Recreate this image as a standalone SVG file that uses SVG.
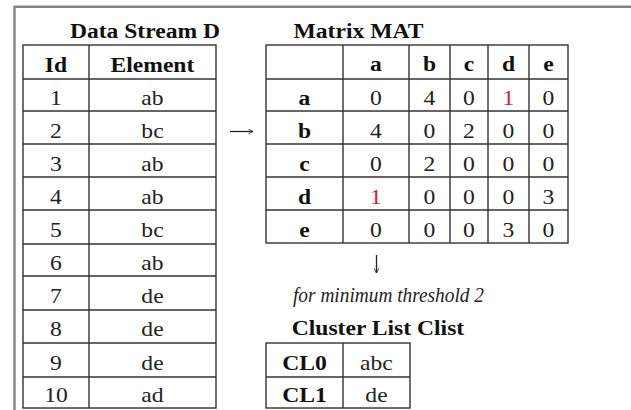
<svg xmlns="http://www.w3.org/2000/svg" width="631" height="410" viewBox="0 0 631 410">
  <style>
    .grid { stroke: #333; stroke-width: 1.4; fill: none; }
    .frame { stroke: #858585; stroke-width: 2.4; fill: none; }
    text { font-family: "Liberation Serif", "Times New Roman", serif; font-size: 20px; fill: #222;
           text-anchor: middle; transform-box: fill-box; transform-origin: center; transform: scaleX(1.18); }
    .b { font-weight: bold; fill: #111; }
    .i { font-style: italic; transform: none; }
    .red { fill: #d4202e; }
    .conn { stroke: #222; stroke-width: 1.3; fill: none; }
  </style>
  <defs>
    <marker id="head" viewBox="0 0 10 10" refX="9" refY="5" markerWidth="6" markerHeight="6" orient="auto" markerUnits="userSpaceOnUse">
      <path d="M1,1 L9,5 L1,9" fill="none" stroke="#222" stroke-width="1.3"/>
    </marker>
  </defs>
  <rect width="631" height="410" fill="#fff"/>

  <!-- page frame -->
  <path class="frame" d="M14.5,410 V6.8 H631"/>

  <!-- data stream table -->
  <g id="data-stream">
    <text class="b" x="145" y="38">Data Stream D</text>
    <rect class="grid" x="23" y="45" width="193" height="363"/>
    <path class="grid" d="M89,45 V408 M23,79 H216 M23,111 H216 M23,144 H216 M23,177 H216 M23,210 H216 M23,244 H216 M23,276 H216 M23,310 H216 M23,343 H216 M23,377 H216"/>
    <text class="b" x="56" y="72">Id</text>
    <text class="b" x="152.5" y="72">Element</text>
    <text x="56" y="105.5">1</text><text x="152.5" y="105.5">ab</text>
    <text x="56" y="138">2</text><text x="152.5" y="138">bc</text>
    <text x="56" y="171">3</text><text x="152.5" y="171">ab</text>
    <text x="56" y="204">4</text><text x="152.5" y="204">ab</text>
    <text x="56" y="237.5">5</text><text x="152.5" y="237.5">bc</text>
    <text x="56" y="270">6</text><text x="152.5" y="270">ab</text>
    <text x="56" y="303.5">7</text><text x="152.5" y="303.5">de</text>
    <text x="56" y="336.5">8</text><text x="152.5" y="336.5">de</text>
    <text x="56" y="370.5">9</text><text x="152.5" y="370.5">de</text>
    <text x="56" y="402">10</text><text x="152.5" y="402">ad</text>
  </g>

  <!-- co-occurrence matrix -->
  <g id="matrix">
    <text class="b" x="358.5" y="38">Matrix MAT</text>
    <rect class="grid" x="266" y="45" width="302" height="198"/>
    <path class="grid" d="M343,45 V243 M409,45 V243 M450,45 V243 M488,45 V243 M529,45 V243 M266,79 H568 M266,111 H568 M266,144 H568 M266,177 H568 M266,210 H568"/>
    <text class="b" x="376" y="71.5">a</text>
    <text class="b" x="429.5" y="71.5">b</text>
    <text class="b" x="469" y="71.5">c</text>
    <text class="b" x="508.5" y="71.5">d</text>
    <text class="b" x="548.5" y="71.5">e</text>

    <text class="b" x="304.5" y="105">a</text>
    <text x="376" y="105">0</text><text x="429.5" y="105">4</text><text x="469" y="105">0</text><text class="red" x="508.5" y="105">1</text><text x="548.5" y="105">0</text>

    <text class="b" x="304.5" y="138">b</text>
    <text x="376" y="138">4</text><text x="429.5" y="138">0</text><text x="469" y="138">2</text><text x="508.5" y="138">0</text><text x="548.5" y="138">0</text>

    <text class="b" x="304.5" y="171">c</text>
    <text x="376" y="171">0</text><text x="429.5" y="171">2</text><text x="469" y="171">0</text><text x="508.5" y="171">0</text><text x="548.5" y="171">0</text>

    <text class="b" x="304.5" y="204">d</text>
    <text class="red" x="376" y="204">1</text><text x="429.5" y="204">0</text><text x="469" y="204">0</text><text x="508.5" y="204">0</text><text x="548.5" y="204">3</text>

    <text class="b" x="304.5" y="237">e</text>
    <text x="376" y="237">0</text><text x="429.5" y="237">0</text><text x="469" y="237">0</text><text x="508.5" y="237">3</text><text x="548.5" y="237">0</text>
  </g>

  <!-- threshold note -->
  <g id="threshold">
    <text class="i" x="388.5" y="302" textLength="191" lengthAdjust="spacingAndGlyphs">for minimum threshold 2</text>
  </g>

  <!-- resulting clusters -->
  <g id="cluster-list">
    <text class="b" x="378" y="335">Cluster List Clist</text>
    <rect class="grid" x="266" y="343" width="144" height="65"/>
    <path class="grid" d="M343,343 V408 M266,377 H410"/>
    <text class="b" x="304.5" y="370.5">CL0</text><text x="376.5" y="370.5">abc</text>
    <text class="b" x="304.5" y="402">CL1</text><text x="376.5" y="402">de</text>
  </g>

  <!-- flow arrows -->
  <g id="connectors">
    <line class="conn" x1="230" y1="131.5" x2="253" y2="131.5" marker-end="url(#head)"/>
    <line class="conn" x1="376.5" y1="255" x2="376.5" y2="273" marker-end="url(#head)"/>
  </g>
</svg>
